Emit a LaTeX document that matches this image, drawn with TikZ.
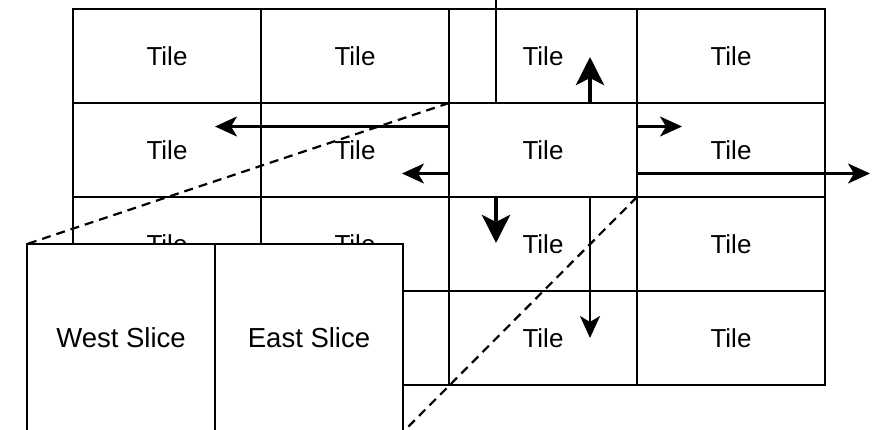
\documentclass[tikz,border=0pt]{standalone}
\usepackage{fontspec}
\setmainfont{Liberation Sans}
\usetikzlibrary{arrows.meta,calc}

\begin{document}
\begin{tikzpicture}[x=1pt,y=-1pt,
  tile/.style={draw,line width=2.4pt,minimum width=188pt,minimum height=94pt,
    inner sep=0pt,outer sep=0pt,anchor=north west,
    font=\fontsize{26}{31}\selectfont},
  slice/.style={draw,fill=white,line width=2.2pt,minimum width=188pt,minimum height=188pt,
    inner sep=0pt,outer sep=0pt,anchor=north west,
    font=\fontsize{27.5}{33}\selectfont},
  thinarrow/.style={line width=2.3pt,-{Stealth[length=22pt,width=20pt,inset=6pt]}},
  thickarrow/.style={line width=4.5pt,-{Stealth[length=28pt,width=28pt,inset=7pt]}},
  dashline/.style={line width=2.2pt,dash pattern=on 9pt off 6pt},
]
\useasboundingbox (0,0) rectangle (877,429);
\fill[white] (0,0) rectangle (877,429);
\clip (0,0) rectangle (877,429);

% 4 x 4 grid of tiles
\foreach \r in {0,1,2,3}{
  \foreach \c in {0,1,2,3}{
    \node[tile] (t\r\c) at ({73+188*\c},{9+94*\r}) {Tile};
  }
}

% free ends of the halo arrows
\coordinate (leftfar)   at (215,126.5);
\coordinate (leftnear)  at (402,173.5);
\coordinate (rightnear) at (682,126.5);
\coordinate (rightfar)  at (870,173.5);
\coordinate (upnear)    at (590,57);
\coordinate (upfar)     at (496,-40);
\coordinate (downnear)  at (496,243);
\coordinate (downfar)   at (590,338);

% west / east exchanges
\draw[thinarrow] ($(t12.west)+(0,-23.5)$) -- (leftfar);
\draw[thinarrow] ($(t12.west)+(0,23.5)$) -- (leftnear);
\draw[thinarrow] ($(t12.east)+(0,-23.5)$) -- (rightnear);
\draw[thinarrow] ($(t12.east)+(0,23.5)$) -- (rightfar);

% north / south exchanges
\draw[thickarrow] ($(t12.north)+(47,0)$) -- (upnear);
\draw[thinarrow]  ($(t12.north)+(-47,0)$) -- (upfar);
\draw[thickarrow] ($(t12.south)+(-47,0)$) -- (downnear);
\draw[thinarrow]  ($(t12.south)+(47,0)$) -- (downfar);

% enlarged view of the centre tile
\node[slice] (west) at (27,244) {West Slice};
\node[slice] (east) at (west.north east) {East Slice};

\draw[dashline] (t12.north west) -- (west.north west);
\draw[dashline] (t12.south east) -- (east.south east);
\end{tikzpicture}
\end{document}
